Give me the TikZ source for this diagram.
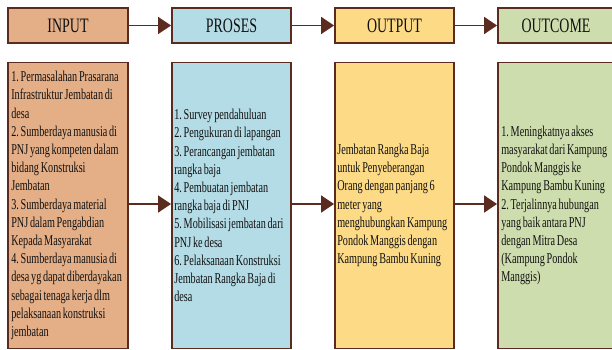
\documentclass[tikz,border=0pt]{standalone}
\usepackage{fontspec}
\setmainfont{Liberation Serif}[FakeStretch=0.68,WordSpace=0.68]
\usetikzlibrary{arrows.meta}
\definecolor{edgec}{HTML}{5B2B1F}
\definecolor{inputc}{HTML}{E4AE87}
\definecolor{prosesc}{HTML}{B4DCE6}
\definecolor{outputc}{HTML}{FDDA86}
\definecolor{outcomec}{HTML}{CEDDAD}
\definecolor{txt}{HTML}{111111}
\frenchspacing
\begin{document}
\begin{tikzpicture}[x=1pt,y=-1pt,
  box/.style={draw=edgec, line width=1.8pt, inner sep=0pt, text=txt},
  head/.style={box, minimum height=35pt, font=\fontsize{20.5}{24}\selectfont},
  body/.style={box, minimum height=286pt},
  btext/.style={anchor=west, inner sep=0pt, align=left, text=txt,
    font=\fontsize{15}{18.2}\selectfont},
  conn/.style={draw=edgec, line width=1.5pt, -{Triangle[length=13pt,width=17pt]}}
]
\useasboundingbox (0,0) rectangle (612,350);
\clip (0,0) rectangle (612,350);
% header boxes
\node[head, fill=inputc, minimum width=120pt] (hin) at (68,25.5) {INPUT};
\node[head, fill=prosesc, minimum width=119pt] (hpr) at (231.5,25.5) {PROSES};
\node[head, fill=outputc, minimum width=119pt] (hout) at (394.5,25.5) {OUTPUT};
\node[head, fill=outcomec, minimum width=124pt] (hoc) at (560,25.5) {\hspace*{-4pt}OUTCOME\hspace*{4pt}};
% body boxes
\node[body, fill=inputc, minimum width=120pt] (bin) at (68,205.5) {};
\node[body, fill=prosesc, minimum width=119pt] (bpr) at (231.5,205.5) {};
\node[body, fill=outputc, minimum width=119pt] (bout) at (394.5,205.5) {};
\node[body, fill=outcomec, minimum width=124pt] (boc) at (560,205.5) {};
% body texts
\node[btext] (tin) at ([xshift=4pt]bin.west) {1. Permasalahan Prasarana\\ Infrastruktur Jembatan di\\ desa\\ 2. Sumberdaya manusia di\\ PNJ yang kompeten dalam\\ bidang Konstruksi\\ Jembatan\\ 3. Sumberdaya material\\ PNJ dalam Pengabdian\\ Kepada Masyarakat\\ 4. Sumberdaya manusia di\\ desa yg dapat diberdayakan\\ sebagai tenaga kerja dlm\\ pelaksanaan konstruksi\\ jembatan};
\node[btext] (tpr) at ([xshift=3pt]bpr.west) {1. Survey pendahuluan\\ 2. Pengukuran di lapangan\\ 3. Perancangan jembatan\\ rangka baja\\ 4. Pembuatan jembatan\\ rangka baja di PNJ\\ 5. Mobilisasi jembatan dari\\ PNJ ke desa\\ 6. Pelaksanaan Konstruksi\\ Jembatan Rangka Baja di\\ desa};
\node[btext] (tout) at ([xshift=3pt]bout.west) {Jembatan Rangka Baja\\ untuk Penyeberangan\\ Orang dengan panjang 6\\ meter yang\\ menghubungkan Kampung\\ Pondok Manggis dengan\\ Kampung Bambu Kuning};
\node[btext] (toc) at ([xshift=4pt]boc.west) {1. Meningkatnya akses\\ masyarakat dari Kampung\\ Pondok Manggis ke\\ Kampung Bambu Kuning\\ 2. Terjalinnya hubungan\\ yang baik antara PNJ\\ dengan Mitra Desa\\ (Kampung Pondok\\ Manggis)};
% connectors
\draw[conn] (hin.east) -- (hpr.west);
\draw[conn] (hpr.east) -- (hout.west);
\draw[conn] (hout.east) -- (hoc.west);
\draw[conn] ([yshift=1.5pt]bin.east) -- ([yshift=1.5pt]bpr.west);
\draw[conn] ([yshift=1.5pt]bpr.east) -- ([yshift=1.5pt]bout.west);
\draw[conn] ([yshift=1.5pt]bout.east) -- ([yshift=1.5pt]boc.west);
\end{tikzpicture}
\end{document}
